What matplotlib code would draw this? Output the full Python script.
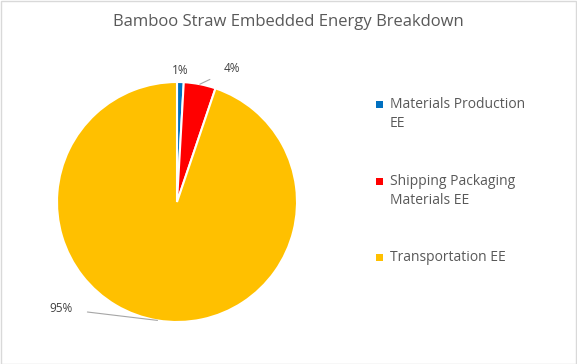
import numpy as np
import matplotlib
matplotlib.use("Agg")
import matplotlib.pyplot as plt
from matplotlib.patches import Rectangle

plt.rcParams['font.family'] = ['Open Sans', 'DejaVu Sans']

categories = ["Materials Production\nEE", "Shipping Packaging\nMaterials EE", "Transportation EE"]
values = [0.9, 4.3, 94.8]
colors = ["#0070C0", "#FF0000", "#FFC000"]
label_pos = [(0.03, 1.10), (0.46, 1.11), (-0.97, -0.89)]

W, H = 577, 364
fig = plt.figure(figsize=(W / 100, H / 100), dpi=100)
fig.patch.set_facecolor("white")

cx, cy, r = 177, 202, 120
half = 130
ax = fig.add_axes([(cx - half) / W, (H - cy - half) / H, 2 * half / W, 2 * half / H])
wedges, _ = ax.pie(values, colors=colors, startangle=90, counterclock=False,
                   wedgeprops=dict(edgecolor="white", linewidth=1.5))
ax.set_xlim(-half / r, half / r)
ax.set_ylim(-half / r, half / r)
ax.set_aspect("equal")
ax.axis("off")

total = sum(values)
for w, v, (lx, ly) in zip(wedges, values, label_pos):
    mid = np.deg2rad((w.theta1 + w.theta2) / 2)
    px, py = np.cos(mid), np.sin(mid)
    txt = f"{round(v / total * 100):.0f}%"
    dist = np.hypot(lx - px, ly - py)
    if dist > 0.2:
        ax.annotate(txt, xy=(px, py), xytext=(lx, ly), ha="center", va="center",
                    fontsize=8.5, color="#404040",
                    arrowprops=dict(arrowstyle="-", color="#A6A6A6", lw=0.8,
                                    shrinkA=9, shrinkB=0))
    else:
        ax.text(lx, ly, txt, ha="center", va="center", fontsize=8.5, color="#404040")

fig.text(288 / W, 1 - 22 / H, "Bamboo Straw Embedded Energy Breakdown",
         ha="center", va="center", fontsize=12, color="#595959")

leg_y = [104, 181, 257]
for cat, col, y in zip(categories, colors, leg_y):
    fig.patches.append(Rectangle((376 / W, 1 - (y + 4) / H), 7 / W, 7 / H,
                                 transform=fig.transFigure, facecolor=col,
                                 edgecolor="none"))
    fig.text(390 / W, 1 - (y - 7) / H, cat, ha="left", va="top", fontsize=10,
             color="#595959", linespacing=1.35)

fig.patches.append(Rectangle((0.5 / W, 0.5 / H), 1 - 1.5 / W, 1 - 1.5 / H,
                             transform=fig.transFigure, facecolor="none",
                             edgecolor="#D9D9D9", lw=1))

fig.savefig("out.png", dpi=100)
